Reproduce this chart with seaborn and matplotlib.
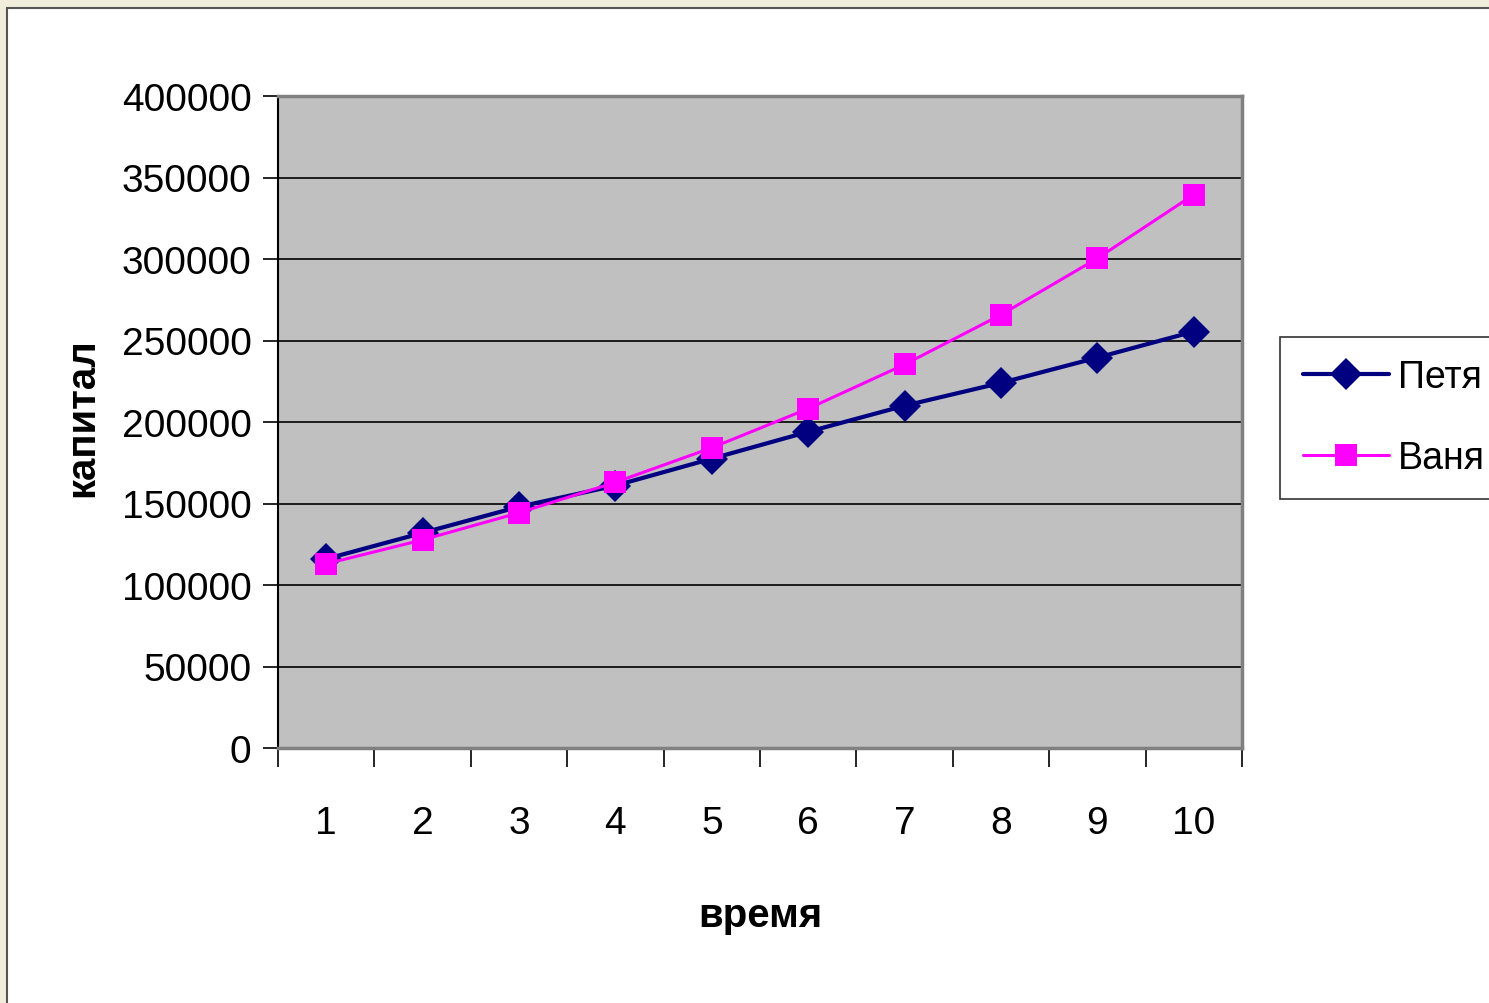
import matplotlib
matplotlib.use("Agg")
import matplotlib.pyplot as plt
import matplotlib.patches as mpatches
import seaborn as sns
import pandas as pd

# -----------------------------
# DATA
# -----------------------------
years = [1, 2, 3, 4, 5, 6, 7, 8, 9, 10]
petya = [116000, 132000, 148000, 161000, 177500, 194000, 210000, 224000, 239500, 255500]
vanya = [113000, 127700, 144300, 163000, 184200, 208200, 235300, 265800, 300400, 339500]
y_ticks = [0, 50000, 100000, 150000, 200000, 250000, 300000, 350000, 400000]

df = pd.DataFrame({"время": years * 2,
                   "капитал": petya + vanya,
                   "name": ["Петя"] * len(years) + ["Ваня"] * len(years)})

# -----------------------------
# STYLE
# -----------------------------
sns.set_style("white")
plt.rcParams["font.family"] = ["Liberation Sans", "DejaVu Sans"]
plt.rcParams["text.color"] = "black"
plt.rcParams["axes.labelcolor"] = "black"
plt.rcParams["xtick.color"] = "black"
plt.rcParams["ytick.color"] = "black"

fig = plt.figure(figsize=(14.89, 10.04), dpi=100)
fig.patch.set_facecolor("#F0EDDA")
# white slide panel with a dark edge (top/left visible)
fig.patches.append(mpatches.Rectangle((7 / 1489, -0.05), 1.2, 1.05 - 9 / 1004,
                                      transform=fig.transFigure, facecolor="white",
                                      edgecolor="#555555", lw=1.5, zorder=-1))

ax = fig.add_axes([278 / 1489, 1 - 749 / 1004, 964 / 1489, 652 / 1004])
ax.set_facecolor("#C0C0C0")

sns.lineplot(data=df[df["name"] == "Петя"], x="время", y="капитал", color="#000080",
             marker="D", markersize=16, linewidth=3.0, markeredgewidth=0, label="Петя", ax=ax,
             zorder=3)
sns.lineplot(data=df[df["name"] == "Ваня"], x="время", y="капитал", color="#FF00FF",
             marker="s", markersize=16, linewidth=2.2, markeredgewidth=0, label="Ваня", ax=ax,
             zorder=4)

# axes
ax.set_xlim(0.5, 10.5)
ax.set_ylim(0, 400000)
ax.set_yticks(y_ticks)
ax.set_yticklabels([str(v) for v in y_ticks], fontsize=28)
ax.yaxis.grid(True, color="black", lw=1.2)
ax.xaxis.grid(False)
ax.tick_params(axis="y", direction="out", length=11, width=1.2, pad=8, left=True)

# category boundaries as ticks, labels centred in each category
ax.set_xticks([x + 0.5 for x in [0] + years])
ax.set_xticklabels([])
ax.set_xticks(years, minor=True)
ax.set_xticklabels([str(x) for x in years], minor=True, fontsize=28)
ax.tick_params(axis="x", which="major", direction="out", length=14, width=1.2, bottom=True)
ax.tick_params(axis="x", which="minor", length=0, pad=41)

for side in ["top", "right", "bottom"]:
    ax.spines[side].set_color("#808080")
    ax.spines[side].set_linewidth(2.5)
ax.spines["left"].set_color("black")
ax.spines["left"].set_linewidth(1.5)

ax.set_xlabel("время", fontsize=29, fontweight="bold")
ax.set_ylabel("капитал", fontsize=29, fontweight="bold")
ax.xaxis.set_label_coords(0.5, -0.227)
ax.yaxis.set_label_coords(-0.183, 0.508)

leg = ax.legend(loc="upper left", bbox_to_anchor=(1280 / 1489, 1 - 338 / 1004),
                bbox_transform=fig.transFigure, fontsize=27, frameon=True, fancybox=False,
                edgecolor="black", handlelength=2.3, handletextpad=0.25,
                borderpad=0.6, labelspacing=1.2, borderaxespad=0)
leg.get_frame().set_linewidth(1.2)

fig.savefig("out.png", dpi=100, facecolor=fig.get_facecolor())
plt.close()
